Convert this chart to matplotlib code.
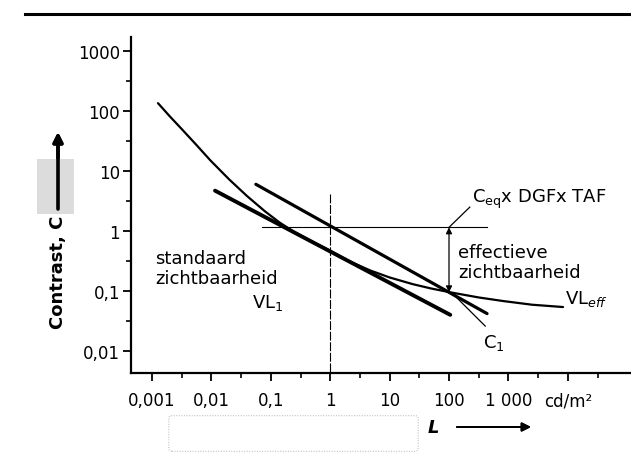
import numpy as np
import matplotlib
matplotlib.use('Agg')
import matplotlib.pyplot as plt
from matplotlib.ticker import NullFormatter
from matplotlib.patches import Rectangle, FancyBboxPatch

# Luminance L (cd/m2) and contrast C
eff_L = [0.00126, 0.0020, 0.00316, 0.00562, 0.00955, 0.020, 0.040, 0.079, 0.141, 0.251,
         0.50, 1.0, 2.0, 4.7, 10, 24.5, 50, 105, 316, 813, 2510, 8318]
eff_C = [135, 81, 50, 27, 15.1, 7.2, 3.8, 2.14, 1.38, 0.955,
         0.66, 0.47, 0.32, 0.22, 0.168, 0.13, 0.11, 0.095, 0.078, 0.068, 0.059, 0.054]

std_L = [0.0115, 105]          # standaard zichtbaarheid VL1
std_C = [4.7, 0.040]

ceq_L = [0.056, 437]           # C_eq x DGF x TAF line
ceq_C = [6.0, 0.042]

ref_C = 1.15                   # horizontal reference level
ref_L = [0.07, 437]
vert_L = 1.0                   # vertical line at 1 cd/m2
vert_Ctop = 4.2
arrow_L = 100                  # effectieve zichtbaarheid arrow
arrow_C = [1.15, 0.095]

x_ticks = [0.001, 0.01, 0.1, 1, 10, 100, 1000, 10000]
x_labels = ['0,001', '0,01', '0,1', '1', '10', '100', '1 000', 'cd/m²']
y_ticks = [0.01, 0.1, 1, 10, 100, 1000]
y_labels = ['0,01', '0,1', '1', '10', '100', '1000']

W, H = 631, 456
def fp(x, y):
    # pixel position -> figure fraction
    return x / W, 1 - y / H

fig = plt.figure(figsize=(W / 100, H / 100), dpi=100)
ax = fig.add_axes([131 / W, 1 - 374 / H, 500 / W, (374 - 38) / H])

ax.set_xscale('log')
ax.set_yscale('log')
ax.set_xlim(10 ** -3.354, 10 ** 5.064)
ax.set_ylim(10 ** -2.367, 10 ** 3.233)

ax.plot(eff_L, eff_C, color='k', lw=1.6, solid_capstyle='round', solid_joinstyle='round')
ax.plot(std_L, std_C, color='k', lw=2.8, solid_capstyle='round')
ax.plot(ceq_L, ceq_C, color='k', lw=2.3, solid_capstyle='round')
ax.plot(ref_L, [ref_C, ref_C], color='k', lw=0.8)
ax.plot([vert_L, vert_L], [vert_Ctop, 10 ** -2.367], color='k', lw=0.8, ls=(0, (8, 1.5)))

# double arrow between the two levels
ax.annotate('', xy=(arrow_L, arrow_C[0]), xytext=(arrow_L, arrow_C[1]),
            arrowprops=dict(arrowstyle='<|-|>', lw=0.9, color='k', mutation_scale=9,
                            shrinkA=0, shrinkB=0))
# leader lines
ax.plot([arrow_L, 224], [arrow_C[0], 2.5], color='k', lw=0.9)
ax.plot([117, 407], [0.089, 0.026], color='k', lw=0.9)

for s in ['top', 'right']:
    ax.spines[s].set_visible(False)
for s in ['left', 'bottom']:
    ax.spines[s].set_linewidth(1.6)

ax.set_xticks(x_ticks, x_labels)
ax.set_yticks(y_ticks, y_labels)
ax.set_xticks([10 ** (k + 0.5) for k in range(-3, 5)], minor=True)
ax.set_yticks([10 ** (k + 0.5) for k in range(-2, 3)], minor=True)
ax.xaxis.set_minor_formatter(NullFormatter())
ax.yaxis.set_minor_formatter(NullFormatter())
ax.tick_params(which='major', length=6, width=1.3, labelsize=12, direction='out')
ax.tick_params(which='minor', length=3.5, width=1.2, direction='out')
ax.tick_params(axis='x', pad=7)
ax.tick_params(axis='y', pad=2)

# annotations
fig.text(*fp(472, 199), 'C$_{\\rm eq}$x DGFx TAF', fontsize=13, va='center', ha='left')
fig.text(*fp(458, 263), 'effectieve\nzichtbaarheid', fontsize=13, va='center', ha='left',
         linespacing=1.15)
fig.text(*fp(565, 299), 'VL$_{eff}$', fontsize=13, va='center', ha='left')
fig.text(*fp(483, 343), 'C$_1$', fontsize=13, va='center', ha='left')
fig.text(*fp(155, 269), 'standaard\nzichtbaarheid', fontsize=13, va='center', ha='left',
         linespacing=1.15)
fig.text(*fp(252, 303), 'VL$_1$', fontsize=13, va='center', ha='left')

# y label with arrow
fig.patches.append(Rectangle(fp(37, 215), 37 / W, 55 / H, transform=fig.transFigure,
                             facecolor='#dcdcdc', edgecolor='none', zorder=0))
fig.text(*fp(58, 272), 'Contrast, C', fontsize=13, fontweight='bold', rotation=90,
         va='center', ha='center')
fig.add_artist(plt.annotate('', xy=fp(58, 133), xytext=fp(58, 210), xycoords='figure fraction',
                            arrowprops=dict(arrowstyle='-|>', lw=2.6, color='k',
                                            mutation_scale=14, shrinkA=0, shrinkB=0)))

# x label with arrow
fig.text(*fp(433, 428), 'L', fontsize=13, fontstyle='italic', fontweight='bold',
         va='center', ha='center')
fig.add_artist(plt.annotate('', xy=fp(531, 428), xytext=fp(457, 428), xycoords='figure fraction',
                            arrowprops=dict(arrowstyle='-|>', lw=1.4, color='k',
                                            mutation_scale=13, shrinkA=0, shrinkB=0)))

# faint stamp box from the scan
fig.patches.append(FancyBboxPatch(fp(172, 450), 243 / W, 31 / H, boxstyle='round,pad=0.005',
                                  transform=fig.transFigure, facecolor='none',
                                  edgecolor='#b0b0b0', lw=0.7, ls=':'))

# rule at the top of the page
fig.add_artist(plt.Line2D([25 / W, 1], [1 - 15 / H, 1 - 15 / H], transform=fig.transFigure,
                          color='k', lw=2.2))

fig.savefig('out.png', dpi=100)
